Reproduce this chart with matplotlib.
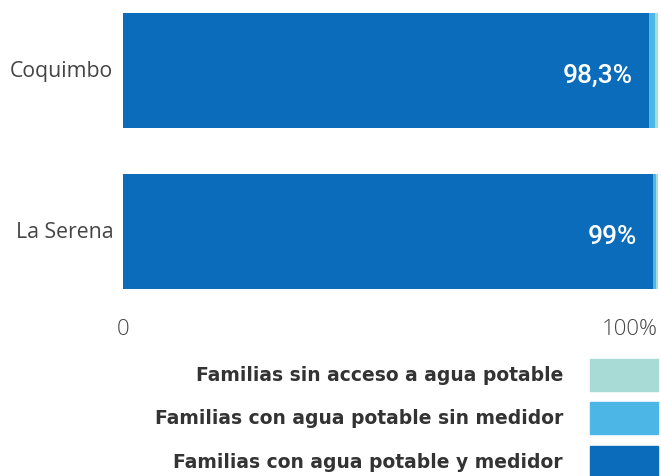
import matplotlib.pyplot as plt
import matplotlib.patches as mpatches

comunas = ["Coquimbo", "La Serena"]
con_medidor = [98.3, 99.0]
sin_medidor = [1.1, 0.6]
sin_acceso = [0.6, 0.4]
etiquetas = ["98,3%", "99%"]

series = [
    "Familias sin acceso a agua potable",
    "Familias con agua potable sin medidor",
    "Familias con agua potable y medidor",
]
colores = ["#a9dbd6", "#4cb6e6", "#0b6cbb"]

W, H = 661, 477
fig = plt.figure(figsize=(W / 100, H / 100), dpi=100)
ax = fig.add_axes([123 / W, 1 - 290 / H, 535 / W, 276 / H])

pos = list(range(len(comunas)))
alto = 0.714
ax.barh(pos, con_medidor, height=alto, color=colores[2])
izq = con_medidor
ax.barh(pos, sin_medidor, left=izq, height=alto, color=colores[1])
izq = [a + b for a, b in zip(con_medidor, sin_medidor)]
ax.barh(pos, sin_acceso, left=izq, height=alto, color=colores[0])

ax.set_xlim(0, 100)
ax.set_ylim(len(comunas) - 1 + alto / 2, -alto / 2)
ax.axis("off")

fuente = ["Open Sans", "DejaVu Sans"]
for i, c in enumerate(comunas):
    ax.text(-1.8, i, c, ha="right", va="center", fontsize=15.3,
            color="#444444", family=fuente)
    ax.text(con_medidor[i] - 3.0, i + 0.03, etiquetas[i], ha="right", va="center",
            fontsize=19, fontweight="medium", color="white", family=["Roboto", "DejaVu Sans"])

# ejes 0 y 100%
ax.text(0, 1.6, "0", ha="center", va="center", fontsize=16, fontweight="light",
        color="#444444", family=fuente, clip_on=False)
ax.text(100, 1.6, "100%", ha="right", va="center", fontsize=16, fontweight="light",
        color="#444444", family=fuente, clip_on=False)

# leyenda
filas_y = [376, 419, 463]
for nombre, col, y in zip(series, colores, filas_y):
    fig.text(563 / W, 1 - y / H, nombre, ha="right", va="center",
             fontsize=13.5, fontweight="bold", color="#333333", family=["DejaVu Sans"])
    fig.add_artist(mpatches.Rectangle((590 / W, 1 - (y + 16) / H), 68 / W, 32 / H,
                                      transform=fig.transFigure, color=col))

fig.savefig("out.png", dpi=100)
